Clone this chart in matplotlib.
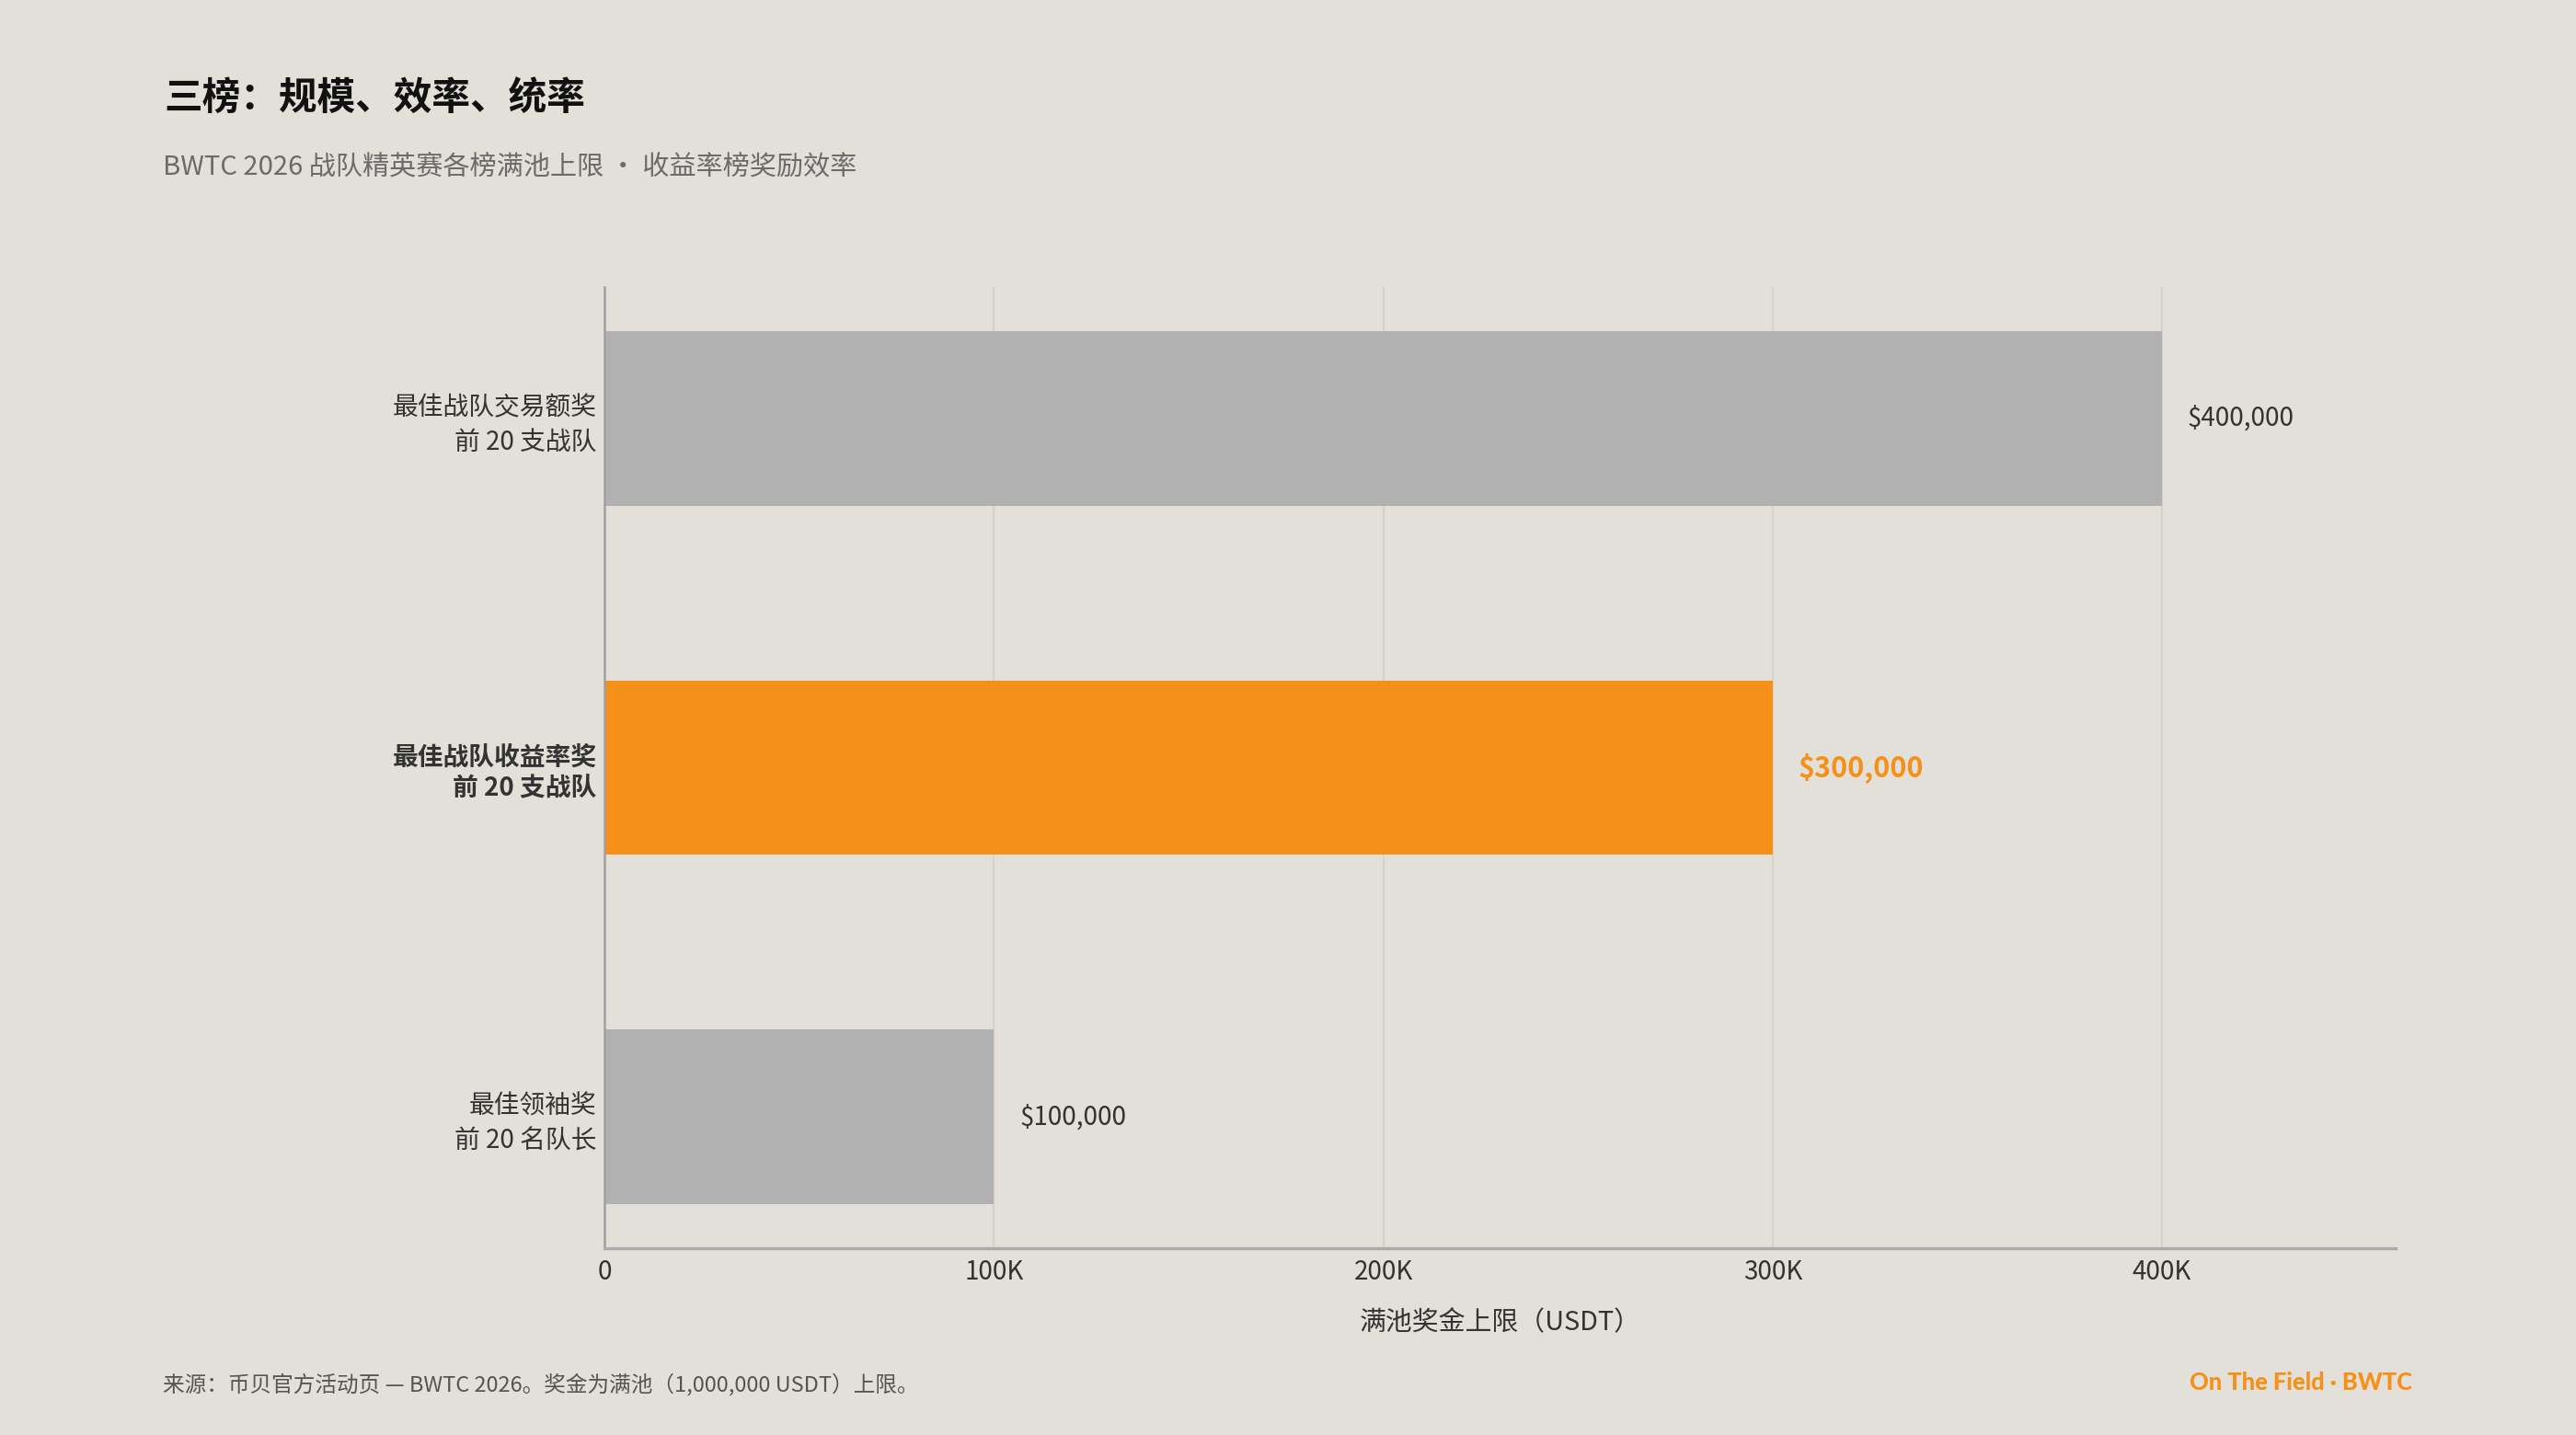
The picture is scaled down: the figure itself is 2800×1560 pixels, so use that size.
import matplotlib
matplotlib.use("Agg")
import matplotlib.pyplot as plt

plt.rcParams['font.family'] = ['Noto Sans CJK SC', 'DejaVu Sans']

categories = ["最佳战队交易额奖\n前 20 支战队", "最佳战队收益率奖\n前 20 支战队", "最佳领袖奖\n前 20 名队长"]
values = [400000, 300000, 100000]
highlight = [False, True, False]
value_labels = ["$400,000", "$300,000", "$100,000"]
xticks = [0, 100000, 200000, 300000, 400000]
xtick_labels = ["0", "100K", "200K", "300K", "400K"]

BG = "#E3DFD9"
GRAY = "#B1B1B1"
ORANGE = "#F59018"
TXT = "#333333"

fig = plt.figure(figsize=(14, 7.8), dpi=200, facecolor=BG)
ax = fig.add_axes([657/2800, 1-1357/1560, (2604-657)/2800, (1357-312)/1560])
ax.set_facecolor(BG)

ypos = list(range(len(categories)))
colors = [ORANGE if h else GRAY for h in highlight]
ax.barh(ypos, values, height=0.5, color=colors, zorder=2)

ax.set_xlim(0, 460000)
ax.set_ylim(2.376, -0.376)
ax.set_xticks(xticks)
ax.set_xticklabels(xtick_labels)
ax.set_yticks(ypos)
ax.set_yticklabels(categories)
for lbl, h in zip(ax.get_yticklabels(), highlight):
    lbl.set_fontweight('bold' if h else 'normal')
    lbl.set_color(TXT)
    lbl.set_fontsize(10)
    lbl.set_linespacing(1.35 if not h else 1.25)
for lbl in ax.get_xticklabels():
    lbl.set_color(TXT)
    lbl.set_fontsize(10)
ax.tick_params(axis='both', length=0)
ax.tick_params(axis='x', pad=4)
ax.tick_params(axis='y', pad=3)

ax.grid(axis='x', color="#D6D2CC", linewidth=0.8, zorder=0)
ax.set_axisbelow(True)
for s in ['top', 'right']:
    ax.spines[s].set_visible(False)
ax.spines['left'].set_color("#A0A0A0")
ax.spines['left'].set_linewidth(0.9)
ax.spines['bottom'].set_color("#ABABAB")
ax.spines['bottom'].set_linewidth(1.2)

for y, v, lab, h in zip(ypos, values, value_labels, highlight):
    ax.annotate(lab, xy=(v, y), xytext=(10, 0), textcoords='offset points',
                va='center', ha='left',
                color=ORANGE if h else TXT,
                fontsize=11 if h else 10,
                fontweight='bold' if h else 'normal')

ax.set_xlabel("满池奖金上限（USDT）", fontsize=10.4, color=TXT, labelpad=9)

fig.text(178/2800, 1-107/1560, "三榜：规模、效率、统率", fontsize=15, fontweight='bold',
         color="#111111", va='center', ha='left')
fig.text(177/2800, 1-181/1560, "BWTC 2026 战队精英赛各榜满池上限 · 收益率榜奖励效率", fontsize=10.5,
         color="#6B6B6B", va='center', ha='left')
fig.text(177/2800, 1-1505/1560, "来源：币贝官方活动页 — BWTC 2026。奖金为满池（1,000,000 USDT）上限。",
         fontsize=8.5, color="#555555", va='center', ha='left')
fig.text(2622/2800, 1-1503/1560, "On The Field · BWTC", fontsize=9.2, fontweight='black',
         color=ORANGE, va='center', ha='right', family=['Lato', 'DejaVu Sans'])

fig.savefig("out.png", dpi=200, facecolor=BG)
